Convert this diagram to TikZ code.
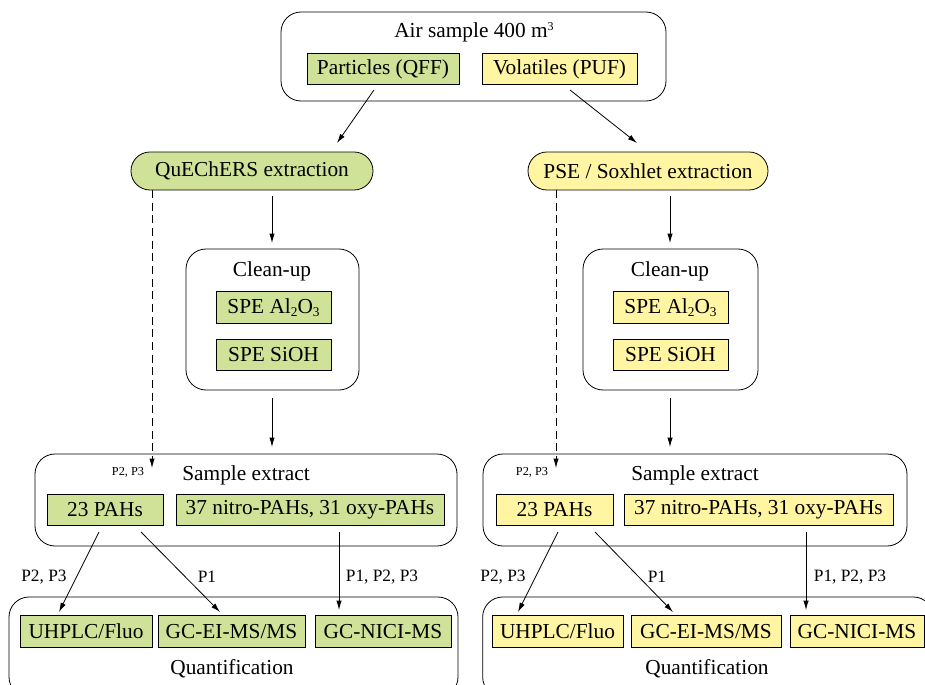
\documentclass[tikz,border=0pt]{standalone}
\usepackage{fontspec}
\setmainfont{Liberation Serif}
\usetikzlibrary{arrows.meta}
\definecolor{gfill}{RGB}{208,226,152}
\definecolor{yfill}{RGB}{255,245,162}
\newcommand{\mysub}[1]{\raisebox{-0.35ex}{\fontsize{10}{10}\selectfont #1}}
\newcommand{\mysup}[1]{\raisebox{0.75ex}{\fontsize{9}{9}\selectfont #1}}
\begin{document}
\begin{tikzpicture}[x=0.75pt,y=-0.75pt,
  grp/.style={draw, rounded corners=15pt, line width=0.6pt, inner sep=0pt},
  itm/.style={draw, line width=0.6pt, inner sep=0pt, font=\fontsize{16}{18}\selectfont, minimum height=23.5pt},
  pill/.style={draw, rounded corners=14.2pt, line width=0.6pt, inner sep=0pt, minimum height=28.5pt, font=\fontsize{16}{18}\selectfont},
  ttl/.style={inner sep=0pt, font=\fontsize{16}{18}\selectfont},
  elab/.style={inner sep=0pt, font=\fontsize{13}{15}\selectfont},
  slab/.style={inner sep=0pt, font=\fontsize{9.2}{11}\selectfont},
  arr/.style={-{Latex[length=7pt,width=4pt]}, line width=0.6pt},
  darr/.style={arr, dash pattern=on 6pt off 3.5pt}]
\useasboundingbox (0,0) rectangle (925,685);

% top
\node[grp, minimum width=288.75pt, minimum height=66.75pt] (top) at (473.5,56.5) {};
\node[ttl] (toptxt) at (474,32) {Air sample 400 m\mysup{3}};
\node[itm, fill=gfill, minimum width=114pt] (part) at (383,69) {Particles (QFF)};
\node[itm, fill=yfill, minimum width=116.25pt] (vol) at (559.5,69) {Volatiles (PUF)};

% extraction
\node[pill, fill=gfill, minimum width=181.5pt] (quech) at (252,171) {QuEChERS extraction};
\node[pill, fill=yfill, minimum width=180pt] (pse) at (648,171) {PSE / Soxhlet extraction};

\coordinate (a1s) at (374,90); \coordinate (a1e) at (337,143);
\coordinate (a2s) at (570,90); \coordinate (a2e) at (637,143);
\draw[arr] (a1s) -- (a1e);
\draw[arr] (a2s) -- (a2e);

% clean-up left
\node[grp, minimum width=129.75pt, minimum height=105.75pt] (cl) at (272.5,319.5) {};
\node[ttl] (cltxt) at (272,271) {Clean-up};
\node[itm, fill=gfill, minimum width=86.25pt] (clA) at (273.5,307.5) {SPE Al\mysub{2}O\mysub{3}};
\node[itm, fill=gfill, minimum width=86.25pt] (clB) at (273.5,355) {SPE SiOH};
% clean-up right
\node[grp, minimum width=131.25pt, minimum height=105.75pt] (cr) at (670.5,319.5) {};
\node[ttl] (crtxt) at (670,271) {Clean-up};
\node[itm, fill=yfill, minimum width=86.25pt] (crA) at (670.5,307.5) {SPE Al\mysub{2}O\mysub{3}};
\node[itm, fill=yfill, minimum width=86.25pt] (crB) at (670.5,355) {SPE SiOH};

% sample extract left
\node[grp, minimum width=316.5pt, minimum height=69pt] (sl) at (246,500) {};
\node[ttl] (sltxt) at (246,475) {Sample extract};
\node[itm, fill=gfill, minimum width=87pt] (pahL) at (105,510) {23 PAHs};
\node[itm, fill=gfill, minimum width=201pt] (nitL) at (310,510) {37 nitro-PAHs, 31 oxy-PAHs};
% sample extract right
\node[grp, minimum width=318pt, minimum height=69pt] (sr) at (695,500) {};
\node[ttl] (srtxt) at (695,475) {Sample extract};
\node[itm, fill=yfill, minimum width=87.75pt] (pahR) at (554.5,510) {23 PAHs};
\node[itm, fill=yfill, minimum width=201.75pt] (nitR) at (758.5,510) {37 nitro-PAHs, 31 oxy-PAHs};

% quantification left
\node[grp, minimum width=336.75pt, minimum height=75pt] (ql) at (233.5,647) {};
\node[ttl] (qltxt) at (232,669) {Quantification};
\node[itm, fill=gfill, minimum width=99pt] (uhL) at (86,631.5) {UHPLC/Fluo};
\node[itm, fill=gfill, minimum width=110.25pt] (eiL) at (231.5,631.5) {GC-EI-MS/MS};
\node[itm, fill=gfill, minimum width=102pt] (niL) at (383,631.5) {GC-NICI-MS};
% quantification right
\node[grp, minimum width=338pt, minimum height=75pt] (qr) at (708,647) {};
\node[ttl] (qrtxt) at (707,669) {Quantification};
\node[itm, fill=yfill, minimum width=98.25pt] (uhR) at (557.5,631.5) {UHPLC/Fluo};
\node[itm, fill=yfill, minimum width=112.5pt] (eiR) at (706,631.5) {GC-EI-MS/MS};
\node[itm, fill=yfill, minimum width=100.5pt] (niR) at (857,631.5) {GC-NICI-MS};

% vertical arrows
\coordinate (v1s) at (272,196); \coordinate (v1e) at (272,243);
\coordinate (v2s) at (272,398); \coordinate (v2e) at (272,447);
\coordinate (v3s) at (670,196); \coordinate (v3e) at (670,243);
\coordinate (v4s) at (670,398); \coordinate (v4e) at (670,447);
\draw[arr] (v1s) -- (v1e);
\draw[arr] (v2s) -- (v2e);
\draw[arr] (v3s) -- (v3e);
\draw[arr] (v4s) -- (v4e);

% dashed bypass
\coordinate (d1s) at (152,190); \coordinate (d1e) at (152,468);
\coordinate (d2s) at (556,190); \coordinate (d2e) at (556,468);
\draw[darr] (d1s) -- (d1e);
\draw[darr] (d2s) -- (d2e);
\node[slab] (dl1) at (128,472) {P2, P3};
\node[slab] (dl2) at (532,472) {P2, P3};

% quantification arrows left
\coordinate (b1s) at (99,532); \coordinate (b1e) at (59,612);
\coordinate (b2s) at (141,532); \coordinate (b2e) at (220,612);
\coordinate (b3s) at (339,532); \coordinate (b3e) at (339,610);
\draw[arr] (b1s) -- (b1e);
\draw[arr] (b2s) -- (b2e);
\draw[arr] (b3s) -- (b3e);
\node[elab] (l1) at (44,577) {P2, P3};
\node[elab] (l2) at (207,577) {P1};
\node[elab] (l3) at (382,577) {P1, P2, P3};
% right
\coordinate (c1s) at (558,532); \coordinate (c1e) at (518,612);
\coordinate (c2s) at (595,532); \coordinate (c2e) at (673,612);
\coordinate (c3s) at (806,532); \coordinate (c3e) at (806,610);
\draw[arr] (c1s) -- (c1e);
\draw[arr] (c2s) -- (c2e);
\draw[arr] (c3s) -- (c3e);
\node[elab] (r1) at (503,577) {P2, P3};
\node[elab] (r2) at (657,577) {P1};
\node[elab] (r3) at (850,577) {P1, P2, P3};
\end{tikzpicture}
\end{document}
